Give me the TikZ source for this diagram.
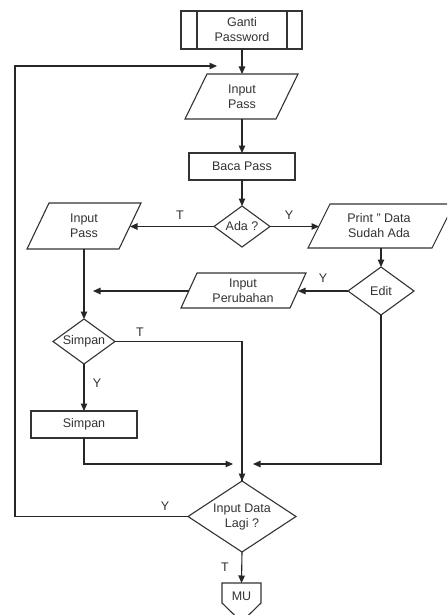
\documentclass[tikz,border=0pt]{standalone}
\usepackage{fontspec}
\setmainfont{Liberation Sans}
\usetikzlibrary{arrows.meta}
\begin{document}
\begin{tikzpicture}[x=1pt,y=-1pt,
  line width=1.1pt,
  shapeline/.style={draw=black!80,line width=1.1pt},
  lbl/.style={font=\fontsize{12.5}{15}\selectfont,text=black!80,align=center,inner sep=0pt},
  flow/.style={draw=black!85,line width=1.1pt,-{Triangle[length=7.5pt,width=6.5pt]}},
  line/.style={draw=black!85,line width=1.1pt}]
\clip (0,0) rectangle (447,615);
\fill[white] (0,0) rectangle (447,615);

% ---- shapes ----
% predefined process
\draw[shapeline] (181,11) rectangle (302,49);
\draw[shapeline] (197,11) -- (197,49) (287,11) -- (287,49);
\node[lbl] (ganti) at (242,30) {Ganti\\Password};
\coordinate (ganti-s) at (242,49);

% input pass (top)
\draw[shapeline] (207,74) -- (298,74) -- (276,119) -- (185,119) -- cycle;
\node[lbl] (inpass) at (242,96.5) {Input\\Pass};
\coordinate (inpass-n) at (242,74);
\coordinate (inpass-s) at (242,119);

% baca pass
\draw[shapeline] (189,153) rectangle (295,180);
\node[lbl] (baca) at (242,166.5) {Baca Pass};
\coordinate (baca-n) at (242,153);
\coordinate (baca-s) at (242,180);

% ada ? decision
\draw[shapeline] (214,226.5) -- (242,206) -- (270,226.5) -- (242,247) -- cycle;
\node[lbl] (ada) at (242,226.5) {Ada ?};
\coordinate (ada-n) at (242,206);
\coordinate (ada-w) at (214,226.5);
\coordinate (ada-e) at (270,226.5);

% input pass (left branch)
\draw[shapeline] (49,203) -- (141,203) -- (119,249) -- (27,249) -- cycle;
\node[lbl] (inpassb) at (84,226) {Input\\Pass};
\coordinate (inpassb-e) at (130,226.5);
\coordinate (inpassb-s) at (84,249);

% print data sudah ada
\draw[shapeline] (330,204) -- (454,204) -- (432,248) -- (308,248) -- cycle;
\node[lbl] (print) at (379,226) {Print '' Data\\Sudah Ada};
\coordinate (print-w) at (319,226.5);
\coordinate (print-s) at (381,248);

% edit decision
\draw[shapeline] (348,291) -- (381,267) -- (414,291) -- (381,315) -- cycle;
\node[lbl] (edit) at (381,291) {Edit};
\coordinate (edit-n) at (381,267);
\coordinate (edit-w) at (348,291);
\coordinate (edit-s) at (381,315);

% input perubahan
\draw[shapeline] (197,273) -- (306,273) -- (290,308) -- (181,308) -- cycle;
\node[lbl] (inper) at (243,290.5) {Input\\Perubahan};
\coordinate (inper-e) at (298,291);
\coordinate (inper-w) at (189,291);
\coordinate (inper-end) at (93,291);

% simpan decision
\draw[shapeline] (53,341.5) -- (84,319) -- (115,341.5) -- (84,364) -- cycle;
\node[lbl] (simq) at (84,341.5) {Simpan};
\coordinate (simq-n) at (84,319);
\coordinate (simq-e) at (115,341.5);
\coordinate (simq-s) at (84,364);

% simpan process
\draw[shapeline] (31,411) rectangle (137,438);
\node[lbl] (simpan) at (84,424.5) {Simpan};
\coordinate (simpan-n) at (84,411);
\coordinate (simpan-s) at (84,438);

% input data lagi decision
\draw[shapeline] (188,516.5) -- (242,481) -- (296,516.5) -- (242,552) -- cycle;
\node[lbl] (lagi) at (242,516.5) {Input Data\\Lagi ?};
\coordinate (lagi-n) at (242,481);
\coordinate (lagi-w) at (188,516.5);
\coordinate (lagi-s) at (242,552);

% off-page connector
\draw[shapeline] (222,583) -- (261,583) -- (261,603) -- (241.5,622) -- (222,603) -- cycle;
\node[lbl] (mu) at (241.5,596) {MU};
\coordinate (mu-n) at (241.5,583);

% ---- connectors ----
\coordinate (loopin) at (217,66);
\coordinate (mergeL) at (233,464);
\coordinate (mergeR) at (253,464);

\draw[flow] (ganti-s) -- (inpass-n);
\draw[flow] (inpass-s) -- (baca-n);
\draw[flow] (baca-s) -- (ada-n);
\draw[flow] (ada-w) -- (inpassb-e);
\draw[flow] (ada-e) -- (print-w);
\draw[flow] (print-s) -- (edit-n);
\draw[flow] (edit-w) -- (inper-e);
\draw[flow] (inper-w) -- (inper-end);
\draw[flow] (inpassb-s) -- (simq-n);
\draw[flow] (simq-s) -- (simpan-n);
\draw[line] (simq-e) -| (lagi-n);
\draw[flow] (242,470) -- (lagi-n);
\draw[flow] (simpan-s) |- (mergeL);
\draw[flow] (edit-s) |- (mergeR);
\draw[flow] (lagi-w) -- (15,516.5) |- (loopin);
\draw[flow] (lagi-s) -- (mu-n);

% ---- branch labels ----
\node[lbl] (tada) at (180,215) {T};
\node[lbl] (yada) at (289,215) {Y};
\node[lbl] (yedit) at (323,278) {Y};
\node[lbl] (tsim) at (140,332) {T};
\node[lbl] (ysim) at (97,383) {Y};
\node[lbl] (ylagi) at (165,506) {Y};
\node[lbl] (tlagi) at (225,567) {T};
\end{tikzpicture}
\end{document}
